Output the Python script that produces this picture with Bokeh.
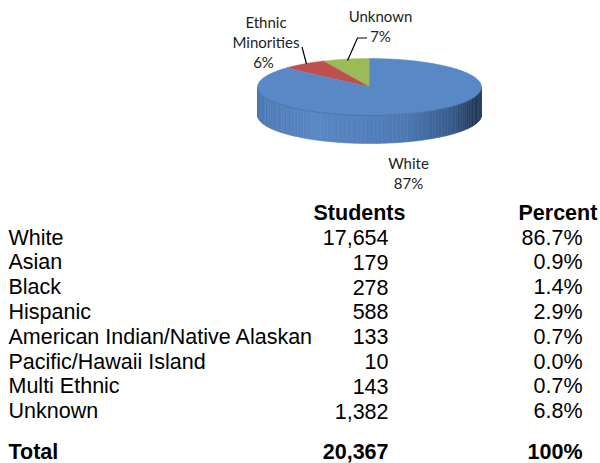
import numpy as np
from bokeh.plotting import figure
from bokeh.models import Range1d, ColumnDataSource
from bokeh.core.properties import value
from bokeh.embed import file_html
from bokeh.resources import INLINE

# ---------------- data ----------------
categories = ["White", "Asian", "Black", "Hispanic",
              "American Indian/Native Alaskan", "Pacific/Hawaii Island",
              "Multi Ethnic", "Unknown"]
students = [17654, 179, 278, 588, 133, 10, 143, 1382]
percents = ["86.7%", "0.9%", "1.4%", "2.9%", "0.7%", "0.0%", "0.7%", "6.8%"]
total_students = "20,367"
total_percent = "100%"

# pie groups, drawn counter-clockwise from 12 o'clock
pie_names = ["Unknown", "Ethnic Minorities", "White"]
pie_values = [1382, 1331, 17654]
pie_pct = ["7%", "6%", "87%"]
pie_colors = ["#9bbb59", "#c0504d", "#5888c6"]

# ---------------- figure (data units = page pixels) ----------------
W, H = 600, 463
p = figure(width=W, height=H, output_backend="svg", toolbar_location=None,
           x_range=Range1d(0, W), y_range=Range1d(H, 0),
           x_axis_location=None, y_axis_location=None,
           min_border=0, outline_line_color=None, tools="")
p.grid.visible = False
p.background_fill_color = "white"
p.border_fill_color = "white"

# ---------------- 3D pie ----------------
cx, cy, a, b, depth = 369, 86.5, 112, 28.5, 28

def ell(theta):
    return cx + a * np.cos(theta), cy - b * np.sin(theta)

vals = np.array(pie_values, dtype=float)
fr = vals / vals.sum()
starts = np.pi / 2 + 2 * np.pi * np.concatenate([[0], np.cumsum(fr)[:-1]])
ends = starts + 2 * np.pi * fr

# side (front half), gradient strips
n = 90
th = np.linspace(np.pi, 2 * np.pi, n + 1)
stops_t = [0.0, 0.35, 0.6, 0.75, 0.88, 1.0]
stops_c = [(72, 116, 176), (90, 136, 196), (78, 122, 180), (58, 94, 142), (36, 60, 92), (42, 68, 100)]
xs_side, ys_side, cols_side = [], [], []
for i in range(n):
    t0, t1 = th[i], th[i + 1]
    tt = np.linspace(t0, t1, 4)
    ex, ey = ell(tt)
    xs_side.append(list(ex) + list(ex[::-1]))
    ys_side.append(list(ey) + list((ey + depth)[::-1]))
    f = (i + 0.5) / n
    c = [int(np.interp(f, stops_t, [s[k] for s in stops_c])) for k in range(3)]
    cols_side.append("#%02x%02x%02x" % tuple(c))
p.patches(xs_side, ys_side, fill_color=cols_side, line_color=cols_side, line_width=0.6)

# top face wedges
xs_top, ys_top = [], []
for s, e in zip(starts, ends):
    tt = np.linspace(s, e, 200)
    ex, ey = ell(tt)
    xs_top.append([cx] + list(ex) + [cx])
    ys_top.append([cy] + list(ey) + [cy])
p.patches(xs_top, ys_top, fill_color=pie_colors, line_color=pie_colors, line_width=0.5)
# rim line
tt = np.linspace(np.pi, 2 * np.pi, 200)
ex, ey = ell(tt)
p.line(ex, ey, line_color="#4a76ad", line_width=1)

# pie labels
lbl_font = value("Lato")
lbl_size = "15px"
p.text(x=[380, 380], y=[15, 35], text=[pie_names[0], pie_pct[0]],
       text_font=lbl_font, text_font_size=lbl_size, text_align="center",
       text_baseline="middle", text_color="#222222")
p.text(x=[265.5, 265.5, 263], y=[21, 41.5, 61.5],
       text=["Ethnic", "Minorities", pie_pct[1]],
       text_font=lbl_font, text_font_size=lbl_size, text_align="center",
       text_baseline="middle", text_color="#222222")
p.text(x=[408, 408], y=[162, 182], text=[pie_names[2], pie_pct[2]],
       text_font=lbl_font, text_font_size=lbl_size, text_align="center",
       text_baseline="middle", text_color="#222222")
# leader lines
p.line([366.5, 357, 347], [37.5, 37.5, 60], line_color="black", line_width=1.2)
p.line([301.5, 306], [46.5, 63.5], line_color="black", line_width=1.2)

# ---------------- table ----------------
tfont = value("Liberation Sans")
tsize = "21.5px"
x_name, x_num, x_pct = 8, 388, 582
base0, step = 237, 24.8
rows_y = [base0 + step * i for i in range(len(categories))]
num_txt = [f"{v:,}" for v in students]

src = ColumnDataSource(dict(y=rows_y, name=categories, num=num_txt, pct=percents))
p.text(x=x_name, y="y", text="name", source=src, text_font=tfont, text_font_size=tsize,
       text_baseline="alphabetic", text_align="left", text_color="black")
p.text(x=x_num, y="y", text="num", source=src, text_font=tfont, text_font_size=tsize,
       text_baseline="alphabetic", text_align="right", text_color="black")
p.text(x=x_pct, y="y", text="pct", source=src, text_font=tfont, text_font_size=tsize,
       text_baseline="alphabetic", text_align="right", text_color="black")

# header
p.text(x=[313, 518], y=[212.5, 212.5], text=["Students", "Percent"], text_font=tfont,
       text_font_size=tsize, text_font_style="bold", text_baseline="alphabetic",
       text_align="left", text_color="black")
# total row
ty = 451
p.text(x=[x_name], y=[ty], text=["Total"], text_font=tfont, text_font_size=tsize,
       text_font_style="bold", text_baseline="alphabetic", text_align="left", text_color="black")
p.text(x=[x_num, x_pct], y=[ty, ty], text=[total_students, total_percent], text_font=tfont,
       text_font_size=tsize, text_font_style="bold", text_baseline="alphabetic",
       text_align="right", text_color="black")

open("out.html", "w").write(file_html(p, INLINE))
